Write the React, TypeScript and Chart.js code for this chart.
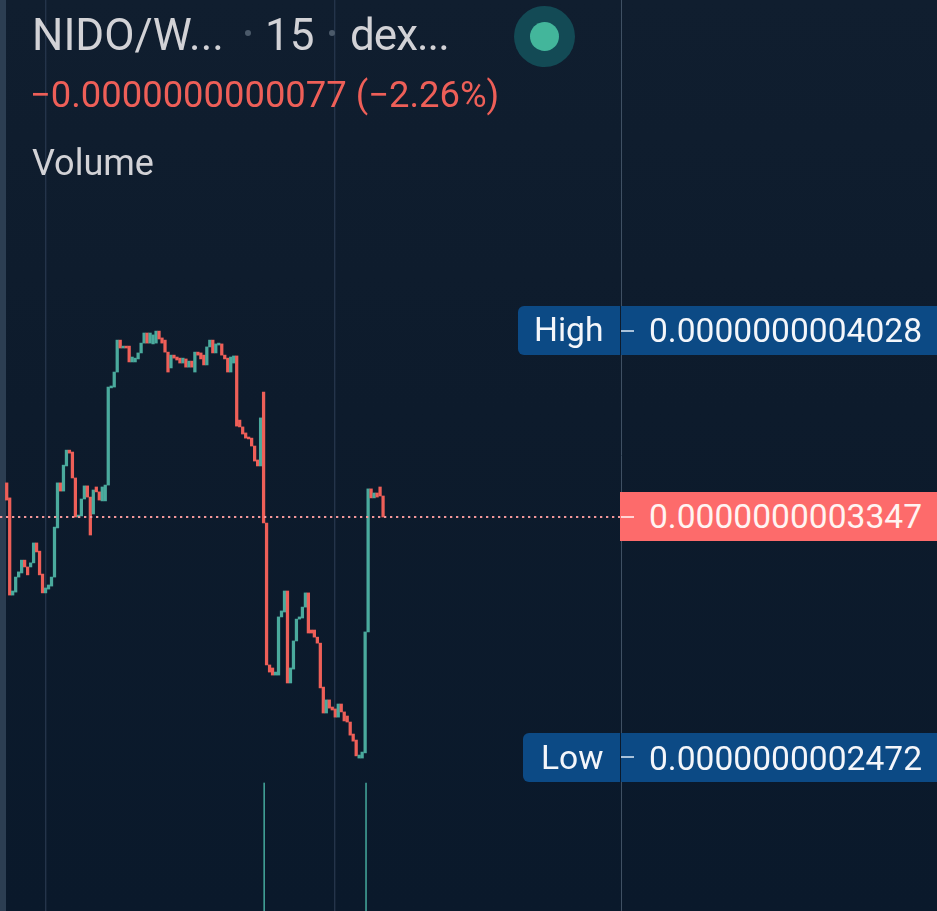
import React, { useEffect, useRef } from "react";
import { Chart, registerables } from "chart.js";

Chart.register(...registerables);

// Candle bodies, price in units of 1e-10
const opens = [
  3.472,3.417,3.061,3.072,3.127,3.142,3.189,3.164,3.164,3.179,3.252,3.222,3.138,3.069,3.083,3.094,3.127,3.307,3.472,3.442,
  3.534,3.592,3.585,3.490,3.347,3.351,3.413,3.461,3.420,3.358,3.457,3.439,3.406,3.406,3.464,3.820,3.823,3.878,3.995,3.966,
  3.973,3.973,3.915,3.915,3.926,3.948,3.984,4.021,3.984,3.981,3.984,4.028,4.003,3.995,3.951,3.893,3.940,3.933,3.929,3.911,
  3.926,3.896,3.918,3.878,3.951,3.948,3.940,3.904,3.970,3.995,3.948,3.977,3.981,3.940,3.929,3.878,3.911,3.937,3.702,3.677,
  3.655,3.640,3.636,3.607,3.556,3.534,3.805,3.325,2.805,2.794,2.768,2.768,2.981,2.999,3.076,2.739,2.790,2.893,2.973,2.977,
  3.017,3.069,2.933,2.933,2.907,2.885,2.724,2.629,2.677,2.651,2.644,2.614,2.662,2.633,2.618,2.596,2.552,2.530,2.464,2.464,
  2.483,2.926,3.450,3.417,3.435,3.457,3.424,
];
const closes = [
  3.409,3.061,3.076,3.127,3.146,3.189,3.164,3.135,3.179,3.252,3.219,3.135,3.069,3.087,3.098,3.127,3.310,3.472,3.442,3.537,
  3.592,3.581,3.490,3.347,3.354,3.413,3.461,3.420,3.281,3.446,3.439,3.409,3.457,3.464,3.823,3.827,3.878,3.995,3.966,3.973,
  3.966,3.915,3.933,3.929,3.948,3.984,4.021,3.984,4.021,4.014,4.028,3.999,3.984,3.951,3.878,3.940,3.929,3.922,3.911,3.929,
  3.896,3.918,3.896,3.951,3.940,3.926,3.904,3.970,3.995,3.948,3.981,3.984,3.940,3.926,3.878,3.933,3.937,3.680,3.677,3.651,
  3.636,3.633,3.607,3.552,3.534,3.710,3.325,2.805,2.779,2.768,2.779,2.981,3.003,3.076,2.739,2.794,2.893,2.973,2.981,3.017,
  3.069,2.922,2.922,2.907,2.885,2.721,2.629,2.677,2.647,2.640,2.614,2.662,2.633,2.600,2.596,2.548,2.526,2.472,2.475,2.486,
  2.926,3.450,3.417,3.435,3.420,3.424,3.347,
];
const volumeIndex = [86.2, 120.3];
const volumeValues = [1, 1];
const lastPrice = 3.347;
const lastPriceEnd = 205.7;
const gridLines = [13.16, 109.9, 205.7];

const symbol = "NIDO/W...";
const interval = "15";
const exchange = "dex...";
const change = "\u22120.0000000000077 (\u22122.26%)";
const indicator = "Volume";
const highLabel = "High";
const highValue = "0.0000000004028";
const lastValue = "0.0000000003347";
const lowLabel = "Low";
const lowValue = "0.0000000002472";

const RED = "#ee5f58";
const GREEN = "#4aaa9d";
const BLUE = "#0c4a85";
const font = "Roboto, sans-serif";

const text = (left: number, top: number, size: number, color: string): React.CSSProperties => ({
  position: "absolute",
  left,
  top,
  fontSize: size,
  lineHeight: `${size}px`,
  color,
  whiteSpace: "nowrap",
});

const dash = (top: number, color: string): React.CSSProperties => ({
  position: "absolute",
  left: 621,
  top,
  width: 13,
  height: 2,
  background: color,
});

const box = (left: number, top: number, width: number, color: string, rounded: boolean): React.CSSProperties => ({
  position: "absolute",
  left,
  top,
  width,
  height: 49,
  background: color,
  borderRadius: rounded ? "6px 0 0 6px" : 0,
});

export default function App() {
  const ref = useRef<HTMLCanvasElement | null>(null);

  useEffect(() => {
    document.body.style.margin = "0";
    document.body.style.background = "#0d1b2c";
    const chart = new Chart(ref.current as HTMLCanvasElement, {
      type: "bar",
      data: {
        datasets: [
          {
            type: "line",
            data: [
              { x: -2.243, y: lastPrice },
              { x: lastPriceEnd, y: lastPrice },
            ],
            borderColor: "#f2979a",
            borderWidth: 2,
            borderDash: [2.3, 3.7],
            pointRadius: 0,
            order: 0,
            yAxisID: "y",
          },
          {
            type: "bar",
            data: opens.map((o, i) => ({ x: i, y: [o, closes[i]] })),
            backgroundColor: opens.map((o, i) => (closes[i] >= o ? GREEN : RED)),
            barThickness: 2.6,
            borderSkipped: false,
            grouped: false,
            order: 1,
            yAxisID: "y",
          },
          {
            type: "bar",
            data: volumeIndex.map((x, i) => ({ x, y: volumeValues[i] })),
            backgroundColor: "#3f9c92",
            barThickness: 1,
            grouped: false,
            order: 2,
            yAxisID: "vol",
          },
        ],
      } as any,
      options: {
        responsive: false,
        animation: false,
        layout: { padding: 0 },
        plugins: { legend: { display: false }, tooltip: { enabled: false } },
        scales: {
          x: {
            type: "linear",
            min: -2.243,
            max: 311.45,
            offset: false,
            border: { display: false },
            ticks: { display: false },
            grid: {
              offset: false,
              drawTicks: false,
              lineWidth: (c: any) => (c.index === 2 ? 1 : 1.4),
              color: (c: any) => (c.index === 2 ? "#3f5063" : "#24344a"),
            },
            afterBuildTicks: (axis: any) => {
              axis.ticks = gridLines.map((value) => ({ value }));
            },
          },
          y: { display: false, min: 1.9038, max: 5.2408 },
          vol: { display: false, min: 0, max: 7.117 },
        },
      } as any,
    });
    return () => chart.destroy();
  }, []);

  return (
    <div
      style={{
        position: "absolute",
        left: 0,
        top: 0,
        width: 937,
        height: 911,
        overflow: "hidden",
        fontFamily: font,
        background: "linear-gradient(#101e2f 0%, #0d1b2c 45%, #0a192b 100%)",
      }}
    >
      <div style={{ position: "absolute", left: 0, top: 0, width: 6, height: 911, background: "#2c3e52" }} />
      <canvas ref={ref} width={937} height={911} style={{ position: "absolute", left: 0, top: 0 }} />

      <div style={text(32, 13, 44, "#d2d2d6")}>{symbol}</div>
      <div style={{ position: "absolute", left: 245, top: 30, width: 6, height: 6, borderRadius: 3, background: "#4b5a6a" }} />
      <div style={text(265, 13, 44, "#d2d2d6")}>{interval}</div>
      <div style={{ position: "absolute", left: 329, top: 30, width: 6, height: 6, borderRadius: 3, background: "#4b5a6a" }} />
      <div style={{ ...text(350, 13, 44, "#d2d2d6"), letterSpacing: "-1px" }}>{exchange}</div>
      <div style={{ position: "absolute", left: 514, top: 6, width: 61, height: 61, borderRadius: 31, background: "#134a55" }} />
      <div style={{ position: "absolute", left: 530, top: 22, width: 29, height: 29, borderRadius: 15, background: "#43b69b" }} />
      <div style={text(30, 77, 36.4, RED)}>{change}</div>
      <div style={text(32, 145, 36, "#d2d2d6")}>{indicator}</div>

      <div style={box(518, 306, 102, BLUE, true)} />
      <div style={box(621, 306, 316, BLUE, false)} />
      <div style={dash(330, "#a9c2da")} />
      <div style={text(534, 313, 33.6, "#f4f6fa")}>{highLabel}</div>
      <div style={text(649, 314, 33.6, "#f4f6fa")}>{highValue}</div>

      <div style={box(620, 492, 317, "#fd6b6b", false)} />
      <div style={dash(516, "#ffd5d5")} />
      <div style={text(649, 500, 33.6, "#fff4f2")}>{lastValue}</div>

      <div style={box(523, 733, 97, BLUE, true)} />
      <div style={box(621, 733, 316, BLUE, false)} />
      <div style={dash(756, "#a9c2da")} />
      <div style={text(541, 741, 33.6, "#f4f6fa")}>{lowLabel}</div>
      <div style={text(649, 742, 33.6, "#f4f6fa")}>{lowValue}</div>
    </div>
  );
}
